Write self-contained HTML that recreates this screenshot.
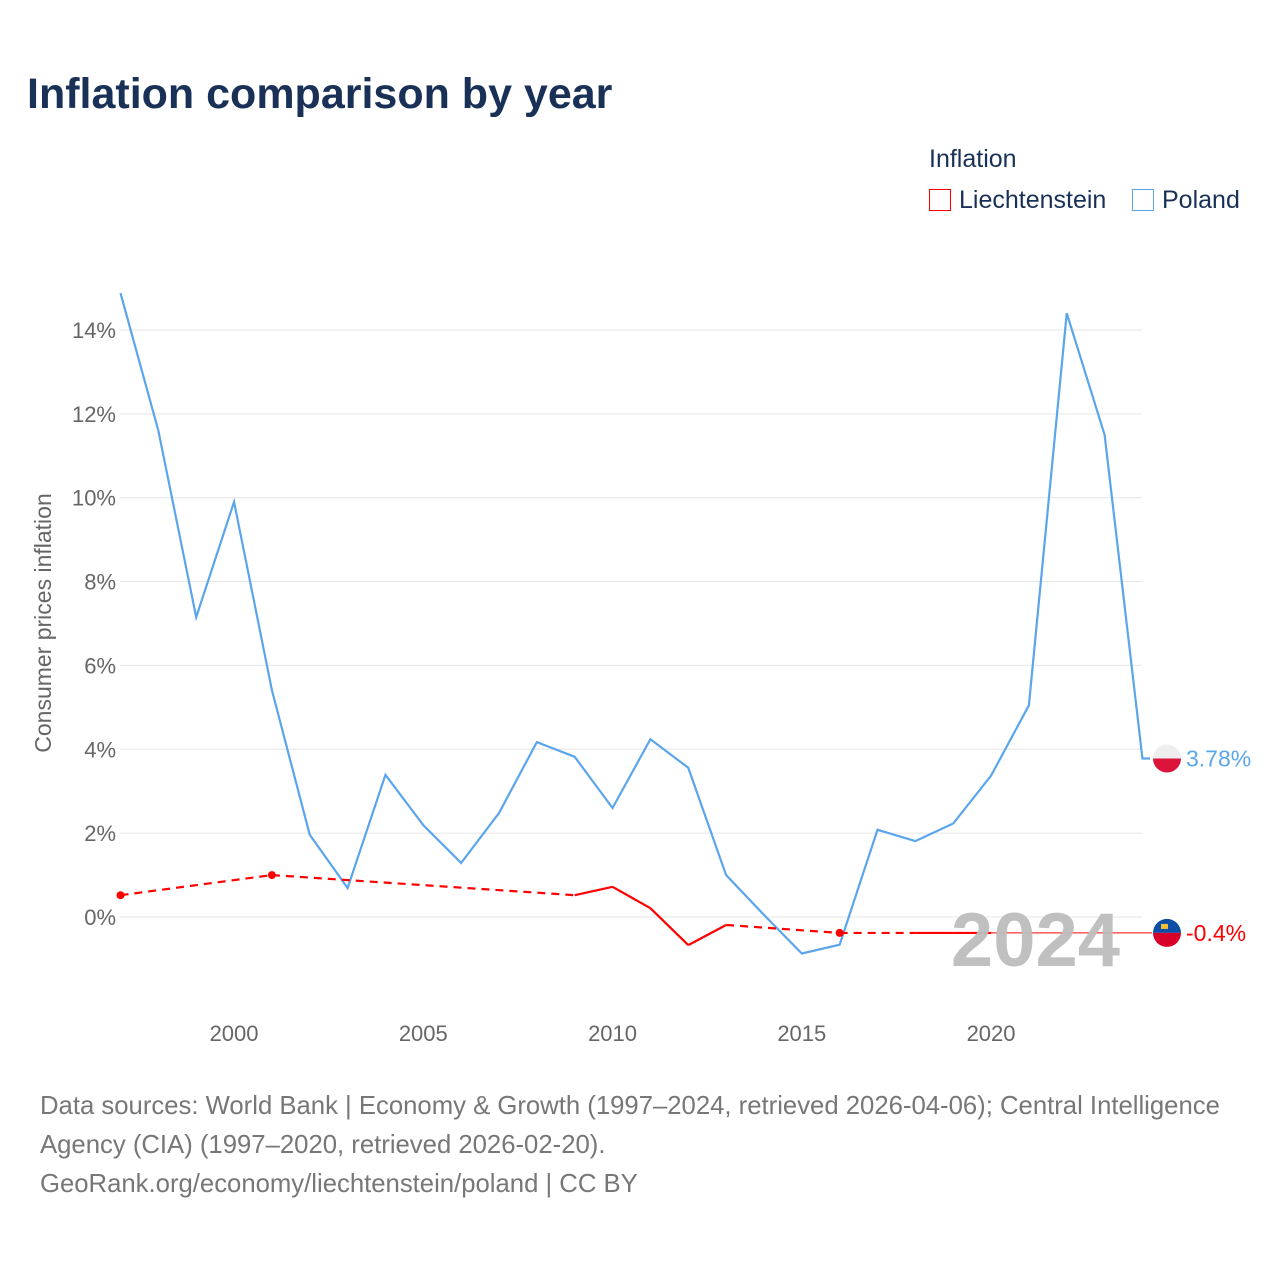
<!DOCTYPE html>
<html><head><meta charset="utf-8"><style>
body{margin:0;background:#fff;font-family:"Liberation Sans",sans-serif}
#wrap{position:relative;width:1280px;height:1280px}
.t{position:absolute;white-space:nowrap}
</style></head><body><div id="wrap">
<div class="t" style="left:27px;top:70px;font-size:43px;font-weight:bold;color:#1a3157">Inflation comparison by year</div>
<div class="t" style="left:929px;top:145px;font-size:25px;color:#1a3157">Inflation</div>
<div class="t" style="left:929px;top:186px;font-size:25px;color:#1a3157"><span style="display:inline-block;width:22px;height:22px;border:1.5px solid #f00;box-sizing:border-box;vertical-align:-3px;margin-right:8px"></span>Liechtenstein</div>
<div class="t" style="left:1132px;top:186px;font-size:25px;color:#1a3157"><span style="display:inline-block;width:22px;height:22px;border:1.5px solid #5aa5ec;box-sizing:border-box;vertical-align:-3px;margin-right:8px"></span>Poland</div>
<svg id="chart" width="1280" height="1280" style="position:absolute;left:0;top:0"></svg>
<div class="t" style="left:40px;top:1087px;font-size:25.7px;line-height:39px;color:#777">Data sources: World Bank | Economy &amp; Growth (1997–2024, retrieved 2026-04-06); Central Intelligence<br>Agency (CIA) (1997–2020, retrieved 2026-02-20).<br>GeoRank.org/economy/liechtenstein/poland | CC BY</div>
</div>
<script>
const years=[1997,1998,1999,2000,2001,2002,2003,2004,2005,2006,2007,2008,2009,2010,2011,2012,2013,2014,2015,2016,2017,2018,2019,2020,2021,2022,2023,2024];
const poland=[14.88,11.6,7.15,9.9,5.41,1.96,0.69,3.39,2.19,1.29,2.48,4.17,3.82,2.6,4.24,3.56,1.0,0.05,-0.87,-0.66,2.08,1.81,2.23,3.37,5.05,14.4,11.5,3.78];
const liech=[0.52,null,null,null,1.0,null,null,null,null,null,null,null,0.52,0.72,0.21,-0.67,-0.19,null,null,-0.38,null,-0.38,-0.38,-0.38,null,null,null,null];
const yTicks=[0,2,4,6,8,10,12,14];
const xTicks=[2000,2005,2010,2015,2020];
const NS="http://www.w3.org/2000/svg";
const svg=document.getElementById('chart');
const X=y=>120.5+(y-1997)*37.85;
const Y=v=>917-v*41.93;
function mk(tag,attrs){const e=document.createElementNS(NS,tag);for(const k in attrs)e.setAttribute(k,attrs[k]);svg.appendChild(e);return e;}
yTicks.forEach(t=>{
 const l=mk('line',{x1:120,x2:1142,y1:Y(t),y2:Y(t),stroke:'#e6e6e6','stroke-width':1});
 
 
 const tx=mk('text',{x:116,y:Y(t)+8,'text-anchor':'end','font-size':22,fill:'#666','font-family':'Liberation Sans'});
 tx.textContent=t+'%';
 
 
});
xTicks.forEach(t=>{
 const tx=mk('text',{x:X(t),y:1041,'text-anchor':'middle','font-size':22,fill:'#666','font-family':'Liberation Sans'});
 tx.textContent=t;
 
 
});
const yt=mk('text',{x:0,y:0,transform:'translate(51,623) rotate(-90)','text-anchor':'middle','font-size':23,fill:'#666','font-family':'Liberation Sans'});
yt.textContent='Consumer prices inflation';


let d='';poland.forEach((v,i)=>{d+=(i?'L':'M')+X(years[i])+','+Y(v);});
d+='L1150,'+Y(poland[poland.length-1]);
const pl=mk('path',{d:d,fill:'none',stroke:'#5aa5ec','stroke-width':2.2});


let prev=-1;
liech.forEach((v,i)=>{
 if(v==null)return;
 if(prev>=0){
  const seg=mk('line',{x1:X(years[prev]),y1:Y(liech[prev]),x2:X(years[i]),y2:Y(v),stroke:'#f00','stroke-width':2.2});
  if(i-prev>1)seg.setAttribute('stroke-dasharray','8,6');
  
  
 }
 const nb=(liech[i-1]!=null)||(liech[i+1]!=null);
 if(!nb){const c=mk('circle',{cx:X(years[i]),cy:Y(v),r:4,fill:'#f00'});
  
  }
 prev=i;
});
const lastL=liech[prev];
const ll=mk('line',{x1:X(years[prev]),y1:Y(lastL),x2:1152,y2:Y(lastL),stroke:'#f00','stroke-width':1});


const yr=mk('text',{x:1120,y:966,'text-anchor':'end','font-size':76,'font-weight':'bold',fill:'#bdbdbd','fill-opacity':0.95,'font-family':'Liberation Sans'});
yr.textContent='2024';


function flag(cy,top,bot,name){
 const g=document.createElementNS(NS,'g');svg.appendChild(g);
 
 
 const a=document.createElementNS(NS,'path');a.setAttribute('d',`M1153,${cy}A14,14 0 0 1 1181,${cy}Z`);a.setAttribute('fill',top);g.appendChild(a);
 const b=document.createElementNS(NS,'path');b.setAttribute('d',`M1153,${cy}A14,14 0 0 0 1181,${cy}Z`);b.setAttribute('fill',bot);g.appendChild(b);
}
const pv=poland[poland.length-1];
flag(Y(pv),'#eeeeee','#dc143c','poland-flag');
flag(Y(lastL),'#0a4ea8','#d8002a','liechtenstein-flag');
const cr=mk('rect',{x:1161,y:Y(lastL)-9,width:7,height:5,fill:'#f2c030'});


const pt=mk('text',{x:1186,y:Y(pv)+8,'font-size':23,fill:'#5aa5ec','font-family':'Liberation Sans'});
pt.textContent=pv.toFixed(2)+'%';


const lt=mk('text',{x:1186,y:Y(lastL)+8,'font-size':23,fill:'#f00','font-family':'Liberation Sans'});
lt.textContent=lastL.toFixed(1)+'%';


</script></body></html>
